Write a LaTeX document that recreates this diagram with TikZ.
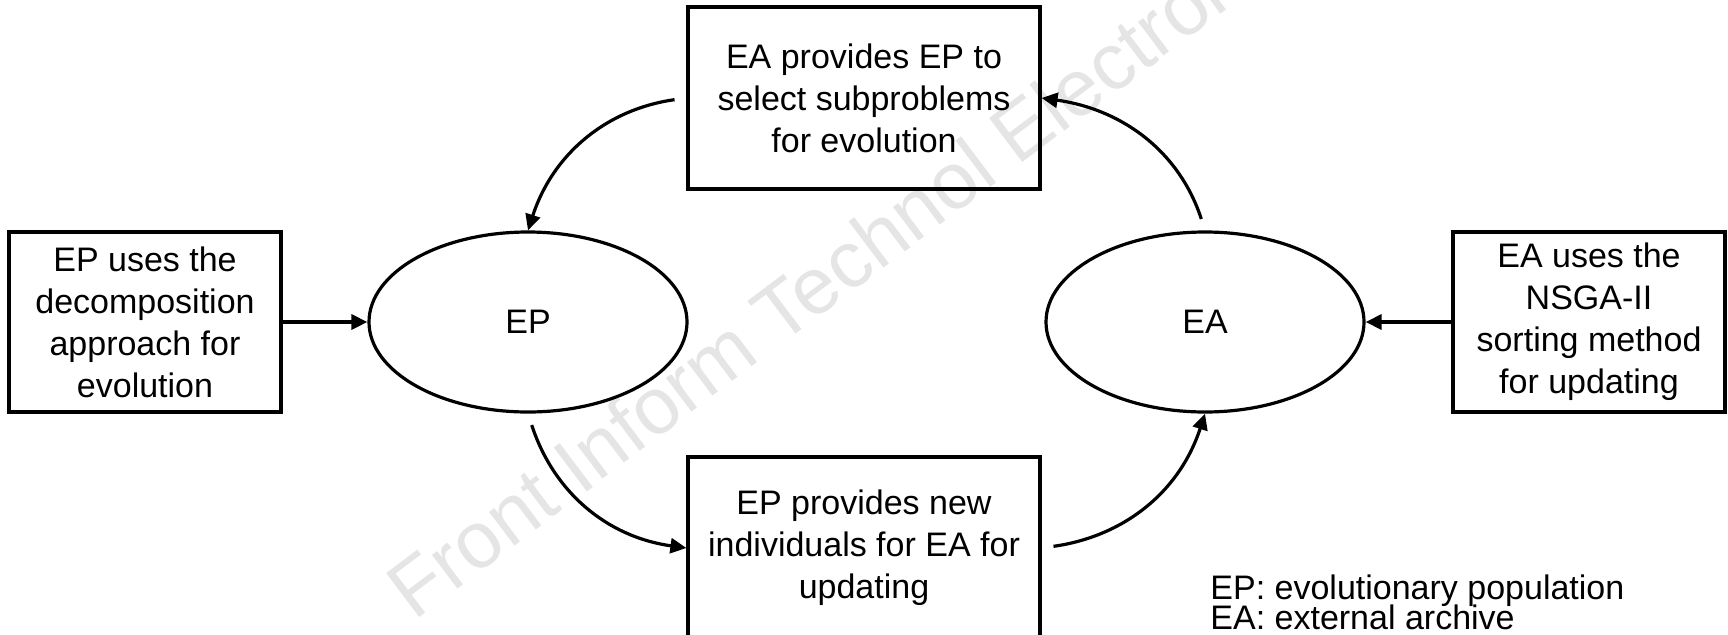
\documentclass[tikz,border=0pt]{standalone}
\usepackage{fontspec}
\setmainfont{Liberation Sans}
\usetikzlibrary{positioning}
\usetikzlibrary{arrows.meta}
\usetikzlibrary{shapes.geometric}
\tikzset{
        basenode/.style={align=center,inner sep=0pt,font=\fontsize{17}{21}\selectfont},
        % Text boxes
        node_rect/.style={basenode, rectangle, draw=black, line width=1.6pt, minimum height=91pt},
        % Population and archive
        node_oval/.style={basenode, ellipse, draw=black, line width=1.6pt, minimum width=159pt, minimum height=90pt},
        % Legend lines
        node_note/.style={basenode, anchor=base west, align=left},
        % Journal mark
        node_mark/.style={inner sep=0pt, anchor=base west, text=black!10, font=\fontsize{40}{40}\selectfont, rotate=37},
        % Flow arrows
        flow/.style={-{Triangle[length=8pt,width=7.5pt]}, line width=1.6pt}
}

\begin{document}
\begin{tikzpicture}[x=1pt, y=1pt]
    \useasboundingbox (0,0) rectangle (864,317);
    \clip (0,0) rectangle (864,317);
    \node[node_mark] (mark) at (207,6) {Front Inform Technol Electron Eng};

    \node[node_oval] (ep) at (264,156) {EP};
    \node[node_oval] (ea) at (602.5,156) {EA};
    \node[node_rect, minimum width=176pt] (select) at (432,268) {EA provides EP to\\select subproblems\\for evolution};
    \node[node_rect, minimum width=176pt] (offspring) at (432,43) {EP provides new\\individuals for EA for\\updating};
    \node[node_rect, minimum width=136pt, minimum height=90pt] (decomp) at (72.5,156) {EP uses the\\decomposition\\approach for\\evolution};
    \node[node_rect, minimum width=136pt, minimum height=90pt] (sorting) at (794.5,156) {EA uses the\\NSGA-II\\sorting method\\for updating};

    \node[node_note] (note_ep) at (605,17.5) {EP: evolutionary population};
    \node[node_note] (note_ea) at (605,2.5) {EA: external archive};

    \draw[flow] (decomp) -- (ep);
    \draw[flow] (sorting) -- (ea);
    \draw[flow, shorten <=6pt] (select.west) to[out=188, in=72] (ep.north);
    \draw[flow, shorten <=6pt] (ea.north) to[out=108, in=-8] (select.east);
    \draw[flow, shorten <=6pt] (ep.south) to[out=-72, in=172] (offspring.west);
    \draw[flow, shorten <=6pt] (offspring.east) to[out=8, in=-108] (ea.south);
\end{tikzpicture}
\end{document}
